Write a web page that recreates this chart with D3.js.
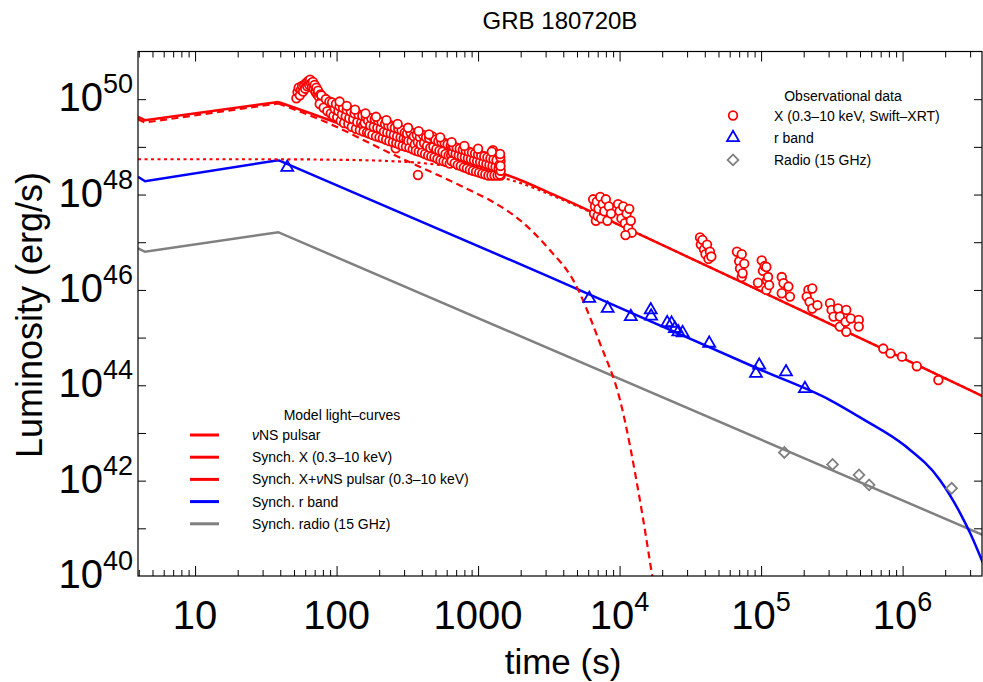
<!DOCTYPE html>
<html><head><meta charset="utf-8">
<script src="https://cdn.jsdelivr.net/npm/d3@7"></script>
<style>body{margin:0;background:#fff}svg{display:block}text{font-family:"Liberation Sans",Arial,sans-serif}</style>
</head><body>
<svg id="c" width="983" height="682"></svg>
<script>
// ---- data (time in s, luminosity as log10(erg/s)) ----
const xMajor = [10, 100, 1000, 1e4, 1e5, 1e6];
const xMajorLabels = [["10",""],["100",""],["1000",""],["10","4"],["10","5"],["10","6"]];
const yTickExp = [41,42,43,44,45,46,47,48,49,50];
const yLabelExp = [40,42,44,46,48,50];

// model curves (broken power laws with a break at peakT)
const peakT = 38.7;
const pulsarT = [3.95, 30, 100, 203, 400, 877, 1214, 2000, 3224, 5000, 1e4, 3e4, 1e5, 1e6, 3.7e6];
const pulsarL = [48.74, 48.74, 48.73, 48.71, 48.66, 48.52, 48.42, 48.24, 48.0, 47.76, 47.36, 46.70, 45.97, 44.57, 43.77];
const synchXT = [3.95, 4.43, 38.7, 95, 203, 877, 1214, 2000, 3224, 4690, 7270, 10070, 13900, 17000, 18500];
const synchXL = [49.58, 49.51, 49.91, 49.45, 48.97, 48.09, 47.88, 47.45, 46.83, 46.21, 44.88, 43.69, 41.6, 40.0, 39.3];
const totalXT = [3.95, 4.43, 38.7, 95, 203, 400, 877, 1214, 2000, 3224, 5000, 1e4, 3e4, 1e5, 1e6, 3.7e6];
const totalXL = [49.63, 49.56, 49.94, 49.53, 49.16, 48.91, 48.66, 48.53, 48.30, 48.03, 47.78, 47.36, 46.70, 45.97, 44.57, 43.77];
const rBandT = [3.95, 4.43, 38.7, 3224, 1e5, 3.07e5, 5.25e5, 1.04e6, 1.84e6, 2.55e6, 3.0e6, 3.7e6];
const rBandL = [48.37, 48.28, 48.72, 46.27, 44.32, 43.69, 43.29, 42.73, 42.01, 41.32, 40.90, 40.27];
const radioT = [3.95, 4.43, 38.7, 3.7e6];
const radioL = [46.87, 46.80, 47.21, 40.86];

// observations
const xrayObs = [
[52,50.02],[53,50.15],[54,50.24],[55,50.08],[56,50.2],[57,50.28],[58,50.16],[59,50.3],[60,50.22],[61,50.34],[62,50.27],[63,50.38],[64,50.3],[65,50.41],[66,50.33],[67,50.25],[68,50.36],[69,50.22],[70,50.3],[71,50.15],[72,50.24],[73,50.1],[74,50.18],[75,50.05],
[77,50.1],[78,49.95],[79,50.05],[80,49.9],[82,50.02],[83,49.86],[85,49.97],[87,49.83],[88,49.92],[90,49.78],[92,49.9],[94,49.76],[96,49.86],[98,49.7],[100,49.83],[102,49.68],[104,49.8],[106,49.64],[108,49.75],[110,49.6],[112,49.74],[115,49.58],[117,49.7],[120,49.55],[122,49.69],[125,49.53],[127,49.67],[130,49.5],[133,49.64],[136,49.48],[139,49.62],[142,49.46],[145,49.6],[148,49.44],[151,49.58],
[76,49.9],[78,50.08],[81,49.82],[84,50.0],[86,49.75],[89,49.95],[91,49.7],[93,49.93],[95,49.65],[97,49.8],[99,49.9],[101,49.62],[103,49.75],[105,49.85],[107,49.55],[109,49.68],[111,49.82],[113,49.5],[116,49.64],[118,49.78],[121,49.48],[123,49.6],[126,49.74],[128,49.42],[131,49.58],[134,49.7],[137,49.38],[140,49.52],[143,49.68],[146,49.35],[149,49.5],
[154,49.45],[157,49.63],[160,49.4],[163,49.58],[166,49.45],[169,49.38],[172,49.55],[175,49.42],[178,49.6],[181,49.35],[185,49.5],[188,49.33],[192,49.48],[195,49.38],[199,49.52],[203,49.3],[206,49.45],[210,49.28],[214,49.44],[218,49.35],[222,49.5],[226,49.25],[230,49.42],[234,49.3],[238,49.46],[243,49.22],[247,49.38],[252,49.2],[256,49.35],[262,48.97],[261,49.28],[266,49.42],[271,49.18],[276,49.33],[281,49.15],[286,49.3],[291,49.12],[296,49.27],[301,49.1],[306,49.32],
[152,49.65],[155,49.32],[158,49.5],[161,49.62],[164,49.3],[167,49.55],[170,49.28],[173,49.45],[176,49.6],[179,49.25],[183,49.42],[186,49.58],[190,49.22],[194,49.4],[197,49.55],[201,49.2],[205,49.38],[208,49.52],[212,49.18],[216,49.32],[220,49.48],[224,49.15],[228,49.3],[232,49.45],[236,49.12],[241,49.28],[245,49.42],[250,49.1],[254,49.25],[258,49.4],[264,49.08],[268,49.22],[273,49.38],[278,49.05],[283,49.2],[288,49.35],[293,49.02],[298,49.18],[303,49.3],
[312,49.15],[318,49.06],[324,49.25],[330,49.1],[336,49.02],[342,49.2],[348,49.29],[354,49.08],[360,49.18],[366,49.0],[376,48.41],[372,49.15],[378,49.05],[385,49.22],[391,48.98],[398,49.12],[405,49.02],[412,49.18],[419,48.95],[426,49.1],[433,49.0],[440,49.16],[448,48.92],[455,49.08],[463,48.98],[471,49.14],[479,48.9],[487,49.05],[495,48.95],[503,49.1],[512,48.86],[520,49.02],[529,48.92],[538,49.08],[547,48.83],[556,48.98],[565,48.88],[575,49.04],[585,48.8],[594,48.95],[604,48.84],[614,49.0],[625,48.78],[635,48.92],
[309,49.0],[315,49.28],[321,49.12],[327,48.98],[333,49.3],[339,49.12],[345,48.95],[351,49.22],[357,49.05],[363,48.92],[369,49.25],[375,49.1],[381,48.9],[388,49.2],[394,49.05],[401,48.88],[408,49.25],[415,49.08],[422,48.85],[429,49.2],[436,49.02],[444,48.82],[451,49.18],[459,48.98],[467,48.8],[475,49.22],[483,49.0],[491,48.78],[499,49.15],[507,48.95],[516,48.75],[524,49.12],[533,48.92],[542,48.72],[551,49.1],[560,48.9],[570,48.7],[580,49.08],[589,48.85],[599,48.68],[609,49.05],[619,48.82],[630,48.65],[640,49.02],
[645,48.82],[656,48.98],[667,48.76],[678,48.9],[689,48.8],[700,48.95],[712,48.74],[724,48.88],[736,48.78],[748,48.93],[760,48.7],[773,48.85],[786,48.75],[799,48.9],[812,48.68],[826,48.83],[840,48.72],[854,48.88],[868,48.65],[883,48.8],[898,48.7],[913,48.86],[928,48.63],[944,48.78],[960,48.68],[976,48.84],[992,48.6],[1009,48.76],[1026,48.66],[1043,48.82],[1061,48.58],[1079,48.74],[1097,48.64],[1115,48.8],[1134,48.56],[1153,48.72],[1172,48.62],[1192,48.78],[1212,48.55],[1232,48.7],[1253,48.6],[1273,48.93],[1274,48.76],[1295,48.52],[1317,48.68],[1339,48.58],[1361,48.74],[1384,48.5],[1400,48.66],[1410,48.45],[1420,48.82],[1430,48.56],[1440,48.7],[1445,48.4],
[650,48.7],[661,48.88],[672,49.0],[683,48.66],[694,48.85],[706,48.98],[718,48.62],[730,48.82],[742,48.96],[754,48.6],[767,48.8],[780,48.94],[793,48.57],[806,48.78],[819,48.92],[833,48.55],[847,48.76],[861,48.9],[875,48.52],[890,48.74],[905,48.88],[920,48.5],[936,48.72],[952,48.86],[968,48.48],[984,48.7],[1000,48.84],[1017,48.46],[1034,48.68],[1052,48.82],[1070,48.44],[1088,48.66],[1106,48.8],[1125,48.42],[1144,48.64],[1163,48.78],[1183,48.4],[1203,48.62],[1222,48.76],[1243,48.4],[1264,48.6],[1285,48.74],[1306,48.4],[1328,48.58],[1350,48.72],[1372,48.4],[1395,48.55],[1415,48.62],[1425,48.42],[1435,48.78],[1445,48.5],[1440,48.6],[1430,48.85],
[105,49.95],[118,49.86],[135,49.78],[160,49.7],[190,49.63],[225,49.56],[270,49.48],[320,49.4],[380,49.33],[450,49.26],[540,49.2],[650,49.1],[800,49.02],[1000,48.96],[1250,48.9],
[6500,47.9],[6600,47.6],[6700,47.75],[6800,47.45],[6900,47.85],[7000,47.55],[7100,47.7],[7300,47.95],[7400,47.5],[7600,47.8],[7800,47.65],[8000,47.9],[8200,47.45],[8400,47.75],[8700,47.6],
[9750,47.8],[10000,47.65],[10300,47.5],[10600,47.75],[10900,47.4],[11200,47.6],[11500,47.3],[11700,47.7],[12000,47.45],[12200,47.2],[11000,47.15],
[37000,47.1],[37500,46.95],[38500,47.05],[39500,46.85],[40500,46.75],[41500,46.95],[42500,46.65],[43500,46.8],[44500,46.7],
[67500,46.8],[70000,46.6],[71000,46.45],[73000,46.75],[73000,46.27],[74000,46.35],[76000,46.55],
[95000,46.15],[101000,46.62],[103000,46.4],[106000,46.5],[109000,46.48],[110000,46.2],[112000,46.27],[109000,46.0],[114000,46.1],
[140000,46.27],[144000,46.14],[156000,46.07],[140000,45.93],[160000,45.86],
[216000,46.0],[230000,46.03],[210000,45.86],[220000,45.75],[230000,45.61],[250000,45.68],
[307000,45.72],[315000,45.58],[325000,45.44],[350000,45.61],[360000,45.44],[360000,45.23],[400000,45.58],[395000,45.33],[400000,45.12],[430000,45.4],[490000,45.37],[490000,45.23],
[7.3e5,44.77],[8.2e5,44.67],[9.9e5,44.6],[1.26e6,44.40],[1.79e6,44.11]
];
const rObs = [[44.8,48.57],[6110,45.82],[8240,45.61],[12000,45.44],[16600,45.58],[16700,45.45],[21700,45.31],[23300,45.30],[24600,45.19],[26000,45.12],[27900,45.10],[43000,44.88],[97000,44.42],[92000,44.25],[150000,44.28],[204000,43.93]];
const radioObs = [[1.46e5,42.59],[3.2e5,42.34],[4.92e5,42.12],[5.8e5,41.91],[2.22e6,41.84]];

// ---- layout ----
const L = 138, R = 982, T = 51.5, B = 576;
const x = d3.scaleLog().domain([3.95, 3.7e6]).range([L, R + 1]);
const y = d3.scaleLog().domain([1e40, 1e51]).range([B, T]);
const svg = d3.select("#c");
const RED = "#ff0000", BLUE = "#0000ff", GRAY = "#808080";

svg.append("defs").append("clipPath").attr("id","clip").append("rect")
  .attr("x", L).attr("y", T).attr("width", R - L).attr("height", B - T);

const pw = v => Math.pow(10, v);
const lin = d3.line().x(d => x(d[0])).y(d => y(pw(d[1])));
const mono = d3.line().x(d => x(d[0])).y(d => y(pw(d[1]))).curve(d3.curveMonotoneX);
const zip = (a, b) => a.map((v, i) => [v, b[i]]);
// straight (power-law) part up to the break, smooth afterwards
const pathFor = (pts, smooth) => {
  if (!smooth) return lin(pts);
  const a = pts.filter(p => p[0] <= peakT), b = pts.filter(p => p[0] >= peakT);
  return (a.length > 1 ? lin(a) : "") + mono(b);
};
const g = svg.append("g").attr("clip-path", "url(#clip)");

g.append("path").attr("d", pathFor(zip(radioT, radioL), false)).attr("fill","none").attr("stroke",GRAY).attr("stroke-width",2.5);
g.append("path").attr("d", pathFor(zip(rBandT, rBandL), true)).attr("fill","none").attr("stroke",BLUE).attr("stroke-width",2.5);
g.append("path").attr("d", mono(zip(pulsarT, pulsarL))).attr("fill","none").attr("stroke",RED).attr("stroke-width",2.2).attr("stroke-dasharray","3,3.5");
g.append("path").attr("d", pathFor(zip(synchXT, synchXL), true)).attr("fill","none").attr("stroke",RED).attr("stroke-width",2.2).attr("stroke-dasharray","7,4.5");
g.append("path").attr("d", pathFor(zip(totalXT, totalXL), true)).attr("fill","none").attr("stroke",RED).attr("stroke-width",2.5);

// points
g.selectAll(".xr").data(xrayObs).join("circle")
  .attr("cx", d => x(d[0])).attr("cy", d => y(pw(d[1]))).attr("r", 4.3)
  .attr("fill","#fff").attr("stroke",RED).attr("stroke-width",1.8);
const tri = d3.symbol(d3.symbolTriangle).size(62)();
g.selectAll(".rb").data(rObs).join("path").attr("d", tri)
  .attr("transform", d => `translate(${x(d[0])},${y(pw(d[1]))})`)
  .attr("fill","none").attr("stroke",BLUE).attr("stroke-width",1.8);
const sq = d3.symbol(d3.symbolSquare).size(58)();
g.selectAll(".rd").data(radioObs).join("path").attr("d", sq)
  .attr("transform", d => `translate(${x(d[0])},${y(pw(d[1]))}) rotate(45)`)
  .attr("fill","none").attr("stroke",GRAY).attr("stroke-width",1.8);

// ---- axes ----
const minorX = [];
for (let e = 0; e <= 6; e++) for (let k = 2; k <= 9; k++) { const v = k * Math.pow(10, e); if (v > 3.95 && v < 3.7e6) minorX.push(v); }
const yTicks = yTickExp.map(pw);

const ax = (gen, tr) => svg.append("g").attr("transform", tr).call(gen)
  .call(s => s.select(".domain").remove())
  .call(s => s.selectAll("line").attr("stroke","#000").attr("stroke-width",1))
  .call(s => s.selectAll("text").remove());
ax(d3.axisBottom(x).tickValues(xMajor).tickSize(-10), `translate(0,${B})`);
ax(d3.axisBottom(x).tickValues(minorX).tickSize(-6), `translate(0,${B})`);
ax(d3.axisTop(x).tickValues(xMajor).tickSize(-10), `translate(0,${T})`);
ax(d3.axisTop(x).tickValues(minorX).tickSize(-6), `translate(0,${T})`);
ax(d3.axisLeft(y).tickValues(yTicks).tickSize(-8), `translate(${L},0)`);
ax(d3.axisRight(y).tickValues(yTicks).tickSize(-8), `translate(${R},0)`);

svg.append("rect").attr("x", L).attr("y", T).attr("width", R - L).attr("height", B - T)
  .attr("fill","none").attr("stroke","#000").attr("stroke-width",1.2);

// x tick labels
xMajor.forEach((v, i) => {
  const t = svg.append("text").attr("x", x(v)).attr("y", 629).attr("text-anchor","middle")
    .attr("font-size", 40).text(xMajorLabels[i][0]);
  if (xMajorLabels[i][1]) t.append("tspan").attr("dy", -18).attr("font-size", 27).text(xMajorLabels[i][1]);
});
// y tick labels
yLabelExp.forEach(e => {
  const t = svg.append("text").attr("x", 133).attr("y", y(pw(e)) + 12).attr("text-anchor","end")
    .attr("font-size", 40).text("10");
  t.append("tspan").attr("dy", -18).attr("font-size", 27).text(e);
});

svg.append("text").attr("x", 563).attr("y", 674).attr("text-anchor","middle").attr("font-size", 35).text("time (s)");
svg.append("text").attr("transform","translate(42,315) rotate(-90)").attr("text-anchor","middle").attr("font-size", 36).text("Luminosity (erg/s)");
svg.append("text").attr("x", 560).attr("y", 29).attr("text-anchor","middle").attr("font-size", 24).text("GRB 180720B");

// ---- legends ----
const obsLeg = svg.append("g");
obsLeg.append("text").attr("x", 843).attr("y", 101).attr("text-anchor","middle").attr("font-size", 14).text("Observational data");
const obsRows = [["X (0.3\u201310 keV, Swift\u2013XRT)", "c"], ["r band", "t"], ["Radio (15 GHz)", "d"]];
obsRows.forEach((r, i) => {
  const yy = 115.5 + i * 22.2;
  if (r[1] === "c") obsLeg.append("circle").attr("cx", 733).attr("cy", yy).attr("r", 4.3).attr("fill","#fff").attr("stroke",RED).attr("stroke-width",1.8);
  if (r[1] === "t") obsLeg.append("path").attr("d", tri).attr("transform", `translate(733,${yy})`).attr("fill","none").attr("stroke",BLUE).attr("stroke-width",1.8);
  if (r[1] === "d") obsLeg.append("path").attr("d", sq).attr("transform", `translate(733,${yy}) rotate(45)`).attr("fill","none").attr("stroke",GRAY).attr("stroke-width",1.8);
  obsLeg.append("text").attr("x", 774).attr("y", yy + 5).attr("font-size", 14).text(r[0]);
});

const modLeg = svg.append("g");
modLeg.append("text").attr("x", 342).attr("y", 420).attr("text-anchor","middle").attr("font-size", 14).text("Model light\u2013curves");
const modRows = [
  [RED, [["\u03bd", true], ["NS pulsar", false]]],
  [RED, [["Synch. X (0.3\u201310 keV)", false]]],
  [RED, [["Synch. X+", false], ["\u03bd", true], ["NS pulsar (0.3\u201310 keV)", false]]],
  [BLUE, [["Synch. r band", false]]],
  [GRAY, [["Synch. radio (15 GHz)", false]]]
];
modRows.forEach((r, i) => {
  const yy = 435 + i * 22.2;
  modLeg.append("line").attr("x1", 190).attr("x2", 219).attr("y1", yy).attr("y2", yy).attr("stroke", r[0]).attr("stroke-width", 3);
  const t = modLeg.append("text").attr("x", 252).attr("y", yy + 5).attr("font-size", 14);
  r[1].forEach(p => t.append("tspan").attr("font-style", p[1] ? "italic" : "normal").text(p[0]));
});
</script>
</body></html>
